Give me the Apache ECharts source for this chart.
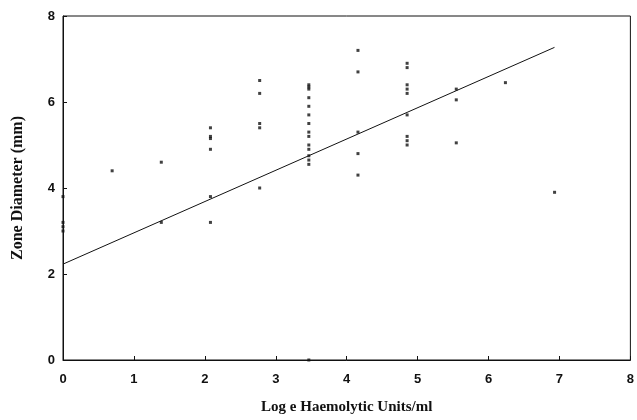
<!DOCTYPE html>
<html>
<head>
<meta charset="utf-8">
<script src="https://cdn.jsdelivr.net/npm/echarts@6/dist/echarts.min.js"></script>
<style>
  html, body { margin: 0; padding: 0; background: #fff; }
  #chart { width: 637px; height: 420px; }
</style>
</head>
<body>
<div id="chart"></div>
<script>
// doubling dilutions, log e of haemolytic units
var logUnits = [0, 0, 0, 0,
    0.693,
    1.386, 1.386,
    2.079, 2.079, 2.079, 2.079, 2.079, 2.079,
    2.773, 2.773, 2.773, 2.773, 2.773,
    3.466, 3.466, 3.466, 3.466, 3.466, 3.466, 3.466, 3.466, 3.466, 3.466, 3.466, 3.466, 3.466, 3.466, 3.466,
    4.159, 4.159, 4.159, 4.159, 4.159,
    4.852, 4.852, 4.852, 4.852, 4.852, 4.852, 4.852, 4.852, 4.852,
    5.545, 5.545, 5.545,
    6.238,
    6.931];
var zoneDiam = [3.8, 3.2, 3.1, 3.0,
    4.4,
    4.6, 3.2,
    5.4, 5.2, 5.15, 4.9, 3.8, 3.2,
    6.5, 6.2, 5.5, 5.4, 4.0,
    6.4, 6.35, 6.3, 6.1, 5.9, 5.7, 5.5, 5.3, 5.2, 5.0, 4.9, 4.75, 4.65, 4.55, 0,
    7.2, 6.7, 5.3, 4.8, 4.3,
    6.9, 6.8, 6.4, 6.3, 6.2, 5.7, 5.2, 5.1, 5.0,
    6.3, 6.05, 5.05,
    6.45,
    3.9];
// fitted line end points
var fitX = [0, 6.93];
var fitY = [2.23, 7.27];
var xTicks = [0, 1, 2, 3, 4, 5, 6, 7, 8];
var yTicks = [0, 2, 4, 6, 8];

var points = logUnits.map(function(x, i) { return [x, zoneDiam[i]]; });
var fit = fitX.map(function(x, i) { return [x, fitY[i]]; });

var myChart = echarts.init(document.getElementById('chart'));
var tickFont = { color: '#111', fontFamily: 'Liberation Sans', fontSize: 13, fontWeight: 'bold' };
var option = {
    animation: false,
    grid: {
        left: 63, right: 2, top: 16, bottom: 57,
        show: true, borderColor: '#111', borderWidth: 1
    },
    xAxis: {
        type: 'value', min: 0, max: 8, interval: 1,
        name: 'Log e Haemolytic Units/ml',
        nameLocation: 'middle', nameGap: 40,
        nameTextStyle: { fontFamily: 'Liberation Serif', fontSize: 15, fontWeight: 'bold', color: '#111' },
        axisLine: { lineStyle: { color: '#111', width: 1 } },
        axisTick: { inside: true, length: 4, lineStyle: { color: '#111' } },
        axisLabel: Object.assign({ margin: 13, showMaxLabel: true,
            formatter: function(v) { return xTicks.indexOf(v) >= 0 ? String(v) : ''; } }, tickFont),
        splitLine: { show: false }
    },
    yAxis: {
        type: 'value', min: 0, max: 8, interval: 2,
        name: 'Zone Diameter (mm)',
        nameLocation: 'middle', nameGap: 37,
        nameTextStyle: { fontFamily: 'Liberation Serif', fontSize: 16, fontWeight: 'bold', color: '#111' },
        axisLine: { show: true, lineStyle: { color: '#111', width: 1 } },
        axisTick: { show: true, inside: true, length: 4, lineStyle: { color: '#111' } },
        axisLabel: Object.assign({ margin: 8,
            formatter: function(v) { return yTicks.indexOf(v) >= 0 ? String(v) : ''; } }, tickFont),
        splitLine: { show: false }
    },
    series: [
        {
            type: 'scatter',
            data: points,
            symbol: 'rect',
            symbolSize: 3,
            itemStyle: { color: '#111' }
        },
        {
            type: 'line',
            data: fit,
            symbol: 'none',
            lineStyle: { color: '#111', width: 1 }
        }
    ]
};
myChart.setOption(option);
</script>
</body>
</html>
